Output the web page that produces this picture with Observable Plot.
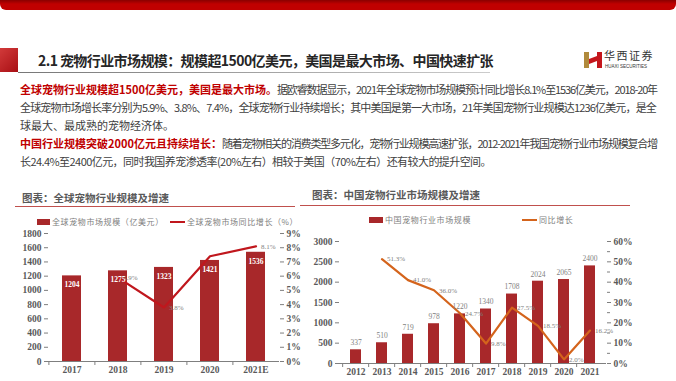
<!DOCTYPE html>
<html><head><meta charset="utf-8">
<script src="https://cdn.jsdelivr.net/npm/d3@7"></script>
<script src="https://cdn.jsdelivr.net/npm/@observablehq/plot@0.6"></script>
<style>
html,body{margin:0;padding:0;background:#fff}
body{width:676px;height:381px;overflow:hidden;position:relative;font-family:"Noto Sans CJK SC","Noto Sans",sans-serif}
.a{position:absolute;white-space:nowrap}
.p{left:20px;font-size:11px;line-height:18px;color:#404040}
.r{color:#c00000;font-weight:bold}
.ct{font-size:10.5px;color:#595959;font-weight:bold;line-height:14px}
.lg{font-size:8px;color:#808080;letter-spacing:0.6px;line-height:10px}
</style></head><body>
<div class="a" style="left:0;top:0;width:676px;height:10px;background:linear-gradient(#8a0000,#c00000 40%);border-radius:0 0 6px 6px"></div>
<div class="a" style="left:0;top:48px;width:18px;height:24px;background:linear-gradient(135deg,#d23a3a,#a80f14)"></div>
<div class="a" style="left:18px;top:72px;width:472px;height:1px;background:linear-gradient(90deg,#777,#ccc)"></div>
<div class="a" id="title" style="left:38px;top:51px;font-size:14px;font-weight:bold;color:#262626;line-height:18px"><span class="n" data-right="493">2.1 宠物行业市场规模：规模超1500亿美元，美国是最大市场、中国快速扩张</span></div>
<svg class="a" style="left:584px;top:52px" width="18" height="16" viewBox="0 0 18 16">
<path d="M0 0h5v16H0z" fill="#b08a3c"/><path d="M13 0h5v16h-5z" fill="#c4161c"/><path d="M5 7l8-3v5l-8 3z" fill="#c4161c"/></svg>
<div class="a" style="left:604px;top:49px;font-size:11px;color:#333;line-height:13px;letter-spacing:1.5px">华西证券</div>
<div class="a" style="left:605px;top:64px;font-size:4.5px;color:#333;line-height:5px;font-family:'Liberation Sans'">HUAXI SECURITIES</div>

<div class="a p" style="top:80px"><span class="r">全球宠物行业规模超1500亿美元，美国是最大市场。</span><span class="n" data-right="657">据欧睿数据显示，2021年全球宠物市场规模预计同比增长8.1%至1536亿美元，2018-20年</span></div>
<div class="a p" style="top:98px"><span class="n" data-right="656">全球宠物市场增长率分别为5.9%、3.8%、7.4%，全球宠物行业持续增长；其中美国是第一大市场，21年美国宠物行业规模达1236亿美元，是全</span></div>
<div class="a p" style="top:116px"><span class="n">球最大、最成熟的宠物经济体。</span></div>
<div class="a p" style="top:134px"><span class="r">中国行业规模突破2000亿元且持续增长：</span><span class="n" data-right="657">随着宠物相关的消费类型多元化，宠物行业规模高速扩张，2012-2021年我国宠物行业市场规模复合增</span></div>
<div class="a p" style="top:152px"><span class="n" data-right="491">长24.4%至2400亿元，同时我国养宠渗透率(20%左右）相较于美国（70%左右）还有较大的提升空间。</span></div>

<div class="a ct" style="left:22px;top:191px">图表：全球宠物行业规模及增速</div>
<div class="a" style="left:15px;top:206px;width:280px;height:1px;background:#c0504d"></div>
<div class="a ct" style="left:312px;top:188px">图表：中国宠物行业市场规模及增速</div>
<div class="a" style="left:300px;top:205px;width:330px;height:1px;background:#c0504d"></div>

<div class="a" style="left:37px;top:219px;width:13px;height:6px;background:#a8282a"></div>
<div class="a lg" style="left:52px;top:217px">全球宠物市场规模（亿美元）</div>
<div class="a" style="left:170px;top:221px;width:15px;height:2px;background:#c0171d"></div>
<div class="a lg" style="left:187px;top:217px">全球宠物市场同比增长（%）</div>

<div class="a" style="left:369px;top:217px;width:14px;height:6px;background:#a8282a"></div>
<div class="a lg" style="left:385px;top:215px">中国宠物行业市场规模</div>
<div class="a" style="left:522px;top:219px;width:15px;height:2px;background:#d4641c"></div>
<div class="a lg" style="left:539px;top:215px">同比增长</div>

<div id="left" class="a" style="left:0;top:225px"></div>
<div id="right" class="a" style="left:300px;top:230px"></div>
<script>
// ---- Global chart data ----
const globalYears = ["2017","2018","2019","2020","2021E"];
const globalSize = [1204,1275,1323,1421,1536];
const globalGrowth = [null,5.9,3.8,7.4,8.1];
const globalGrowthShown = [false,true,true,false,true];
const globalSizeTicks = [0,200,400,600,800,1000,1200,1400,1600,1800];
const globalPctTicks = [0,1,2,3,4,5,6,7,8,9];

// ---- China chart data ----
const chinaYears = ["2012","2013","2014","2015","2016","2017","2018","2019","2020","2021"];
const chinaSize = [337,510,719,978,1220,1340,1708,2024,2065,2400];
const chinaGrowth = [null,51.3,41.0,36.0,24.7,9.8,27.5,18.5,2.0,16.2];
const chinaSizeTicks = [0,500,1000,1500,2000,2500,3000];
const chinaPctTicks = [0,10,20,30,40,50,60];
const chinaPctMinor = [5,15,25,35,45,55];

// fit text runs to the reference line ends via letter-spacing
document.querySelectorAll("span.n[data-right]").forEach(s=>{
  const r = s.getBoundingClientRect();
  const target = +s.dataset.right - r.left;
  const n = [...s.textContent].length;
  s.style.letterSpacing = ((target - r.width)/n) + "px";
});

const axisFont = {fontFamily:"'Liberation Serif',serif", fontSize:"9.5px", fontWeight:"bold", color:"#595959", background:"transparent", overflow:"visible"};
const barColor = "#a8282a";

function dualChart(el, o){
  const n = o.years.length;
  const step = (o.width - o.ml - o.mr)/n;
  const k = o.sizeMax / o.pctMax; // maps right-axis percent onto left-axis scale
  const bars = o.years.map((y,i)=>({year:y, size:o.size[i]}));
  const line = o.years.map((y,i)=>({year:y, g:o.growth[i], show:o.shown ? o.shown[i] : true})).filter(d=>d.g!=null);
  const marks = [
    Plot.barY(bars,{x:"year", y:"size", fill:barColor}),
    Plot.ruleY([0],{stroke:"#7f7f7f", strokeWidth:1}),
    Plot.axisY({ticks:o.sizeTicks, anchor:"left", tickSize:4, tickPadding:3, line:true, stroke:"#7f7f7f", label:null, fill:"#595959", tickFormat:v=>String(v)}),
    Plot.axisY({ticks:o.pctTicks.map(v=>v*k), anchor:"right", tickSize:4, tickPadding:3, line:true, stroke:"#7f7f7f", label:null, tickFormat:v=>Math.round(v/k)+"%", fill:"#595959"}),
    Plot.axisX({anchor:"bottom", tickSize:4, text:null, dx:-step/2, stroke:"#7f7f7f", label:null}),
    Plot.axisX({anchor:"bottom", tickSize:0, tickPadding:o.xPad, label:null, fill:"#595959"}),
  ];
  if (o.minor) marks.push(Plot.axisY({ticks:o.minor.map(v=>v*k), anchor:"right", tickSize:3, text:null, stroke:"#7f7f7f", label:null}));
  marks.push(
    Plot.line(line,{x:"year", y:d=>d.g*k, stroke:o.lineColor, strokeWidth:o.lineWidth}),
    Plot.text(line.filter(d=>d.show),{x:"year", y:d=>d.g*k, text:d=>d.g.toFixed(1)+"%", textAnchor:"start", dx:5, dy:o.pctDy, fill:"#7f7f7f", fontSize:7, fontWeight:"normal", fontFamily:"'Liberation Serif',serif"}),
    Plot.text(bars,{x:"year", y:"size", text:d=>String(d.size), dy:o.barDy, fill:o.barTextFill, fontWeight:o.barTextWeight, fontSize:7.5, fontFamily:"'Liberation Serif',serif"})
  );
  const chart = Plot.plot({
    width:o.width, height:o.height,
    marginLeft:o.ml, marginRight:o.mr, marginTop:o.mt, marginBottom:o.mb,
    x:{domain:o.years, paddingInner:o.pad, paddingOuter:o.pad/2, axis:null},
    y:{domain:[0,o.sizeMax], axis:null},
    style:axisFont,
    marks
  });
  el.appendChild(chart);
}

dualChart(document.getElementById("left"),{
  years:globalYears, size:globalSize, growth:globalGrowth, shown:globalGrowthShown,
  sizeTicks:globalSizeTicks, pctTicks:globalPctTicks, sizeMax:1800, pctMax:9,
  width:310, height:156, ml:48, mr:31, mt:8, mb:20, pad:0.59, xPad:5,
  lineColor:"#c0171d", lineWidth:2.2, pctDy:0, barDy:9, barTextFill:"#fff", barTextWeight:"bold"
});
dualChart(document.getElementById("right"),{
  years:chinaYears, size:chinaSize, growth:chinaGrowth, minor:chinaPctMinor,
  sizeTicks:chinaSizeTicks, pctTicks:chinaPctTicks, sizeMax:3000, pctMax:60,
  width:376, height:151, ml:39, mr:70, mt:11, mb:18, pad:0.56, xPad:5,
  lineColor:"#d4641c", lineWidth:2.2, pctDy:0, barDy:-7, barTextFill:"#7f7f7f", barTextWeight:"normal"
});
</script>
</body></html>
